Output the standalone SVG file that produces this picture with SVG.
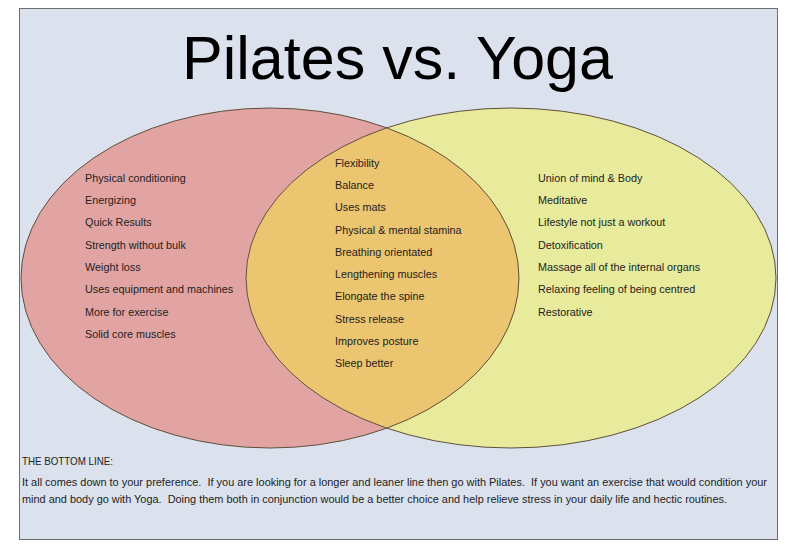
<svg xmlns="http://www.w3.org/2000/svg" width="800" height="550" viewBox="0 0 800 550">
  <style>
    .item { font-family: "Liberation Sans", Arial, sans-serif; font-size: 10.8px; fill: #222; }
    .body { font-family: "Liberation Sans", Arial, sans-serif; font-size: 10.5px; fill: #222; white-space: pre; }
    .title { font-family: "Liberation Sans", Arial, sans-serif; font-size: 62px; fill: #000; }
    .edge { fill: none; stroke: #5e4f3c; stroke-width: 1; }
  </style>
  <defs>
    <clipPath id="yogaClip">
      <ellipse cx="511" cy="278" rx="265" ry="170"/>
    </clipPath>
  </defs>
  <rect x="0" y="0" width="800" height="550" fill="#ffffff"/>
  <g id="panel">
    <rect x="19.5" y="8.5" width="758" height="531" fill="#dbe2ee" stroke="#6e6e6e" stroke-width="1"/>
  </g>
  <g id="title">
    <text class="title" x="182" y="79" textLength="431" lengthAdjust="spacingAndGlyphs">Pilates vs. Yoga</text>
  </g>
  <g id="pilates">
    <ellipse cx="270" cy="278" rx="249" ry="170" fill="#e2a4a3"/>
  </g>
  <g id="yoga">
    <ellipse cx="511" cy="278" rx="265" ry="170" fill="#e8eb9c"/>
  </g>
  <g id="overlap">
    <ellipse cx="270" cy="278" rx="249" ry="170" fill="#ecc570" clip-path="url(#yogaClip)"/>
  </g>
  <g id="outlines">
    <ellipse class="edge" cx="270" cy="278" rx="249" ry="170"/>
    <ellipse class="edge" cx="511" cy="278" rx="265" ry="170"/>
  </g>
  <g id="pilates-list">
    <text class="item" x="85" y="182">Physical conditioning</text>
    <text class="item" x="85" y="204">Energizing</text>
    <text class="item" x="85" y="226">Quick Results</text>
    <text class="item" x="85" y="249">Strength without bulk</text>
    <text class="item" x="85" y="271">Weight loss</text>
    <text class="item" x="85" y="293">Uses equipment and machines</text>
    <text class="item" x="85" y="316">More for exercise</text>
    <text class="item" x="85" y="338">Solid core muscles</text>
  </g>
  <g id="overlap-list">
    <text class="item" x="335" y="167">Flexibility</text>
    <text class="item" x="335" y="189">Balance</text>
    <text class="item" x="335" y="211">Uses mats</text>
    <text class="item" x="335" y="234">Physical &amp; mental stamina</text>
    <text class="item" x="335" y="256">Breathing orientated</text>
    <text class="item" x="335" y="278">Lengthening muscles</text>
    <text class="item" x="335" y="300">Elongate the spine</text>
    <text class="item" x="335" y="323">Stress release</text>
    <text class="item" x="335" y="345">Improves posture</text>
    <text class="item" x="335" y="367">Sleep better</text>
  </g>
  <g id="yoga-list">
    <text class="item" x="538" y="182">Union of mind &amp; Body</text>
    <text class="item" x="538" y="204">Meditative</text>
    <text class="item" x="538" y="226">Lifestyle not just a workout</text>
    <text class="item" x="538" y="249">Detoxification</text>
    <text class="item" x="538" y="271">Massage all of the internal organs</text>
    <text class="item" x="538" y="293">Relaxing feeling of being centred</text>
    <text class="item" x="538" y="316">Restorative</text>
  </g>
  <g id="bottom-line">
    <text class="body" x="22" y="465" textLength="91" lengthAdjust="spacingAndGlyphs">THE BOTTOM LINE:</text>
    <text class="body" x="22" y="486" textLength="745" lengthAdjust="spacingAndGlyphs">It all comes down to your preference.  If you are looking for a longer and leaner line then go with Pilates.  If you want an exercise that would condition your</text>
    <text class="body" x="22" y="503" textLength="705" lengthAdjust="spacingAndGlyphs">mind and body go with Yoga.  Doing them both in conjunction would be a better choice and help relieve stress in your daily life and hectic routines.</text>
  </g>
</svg>
